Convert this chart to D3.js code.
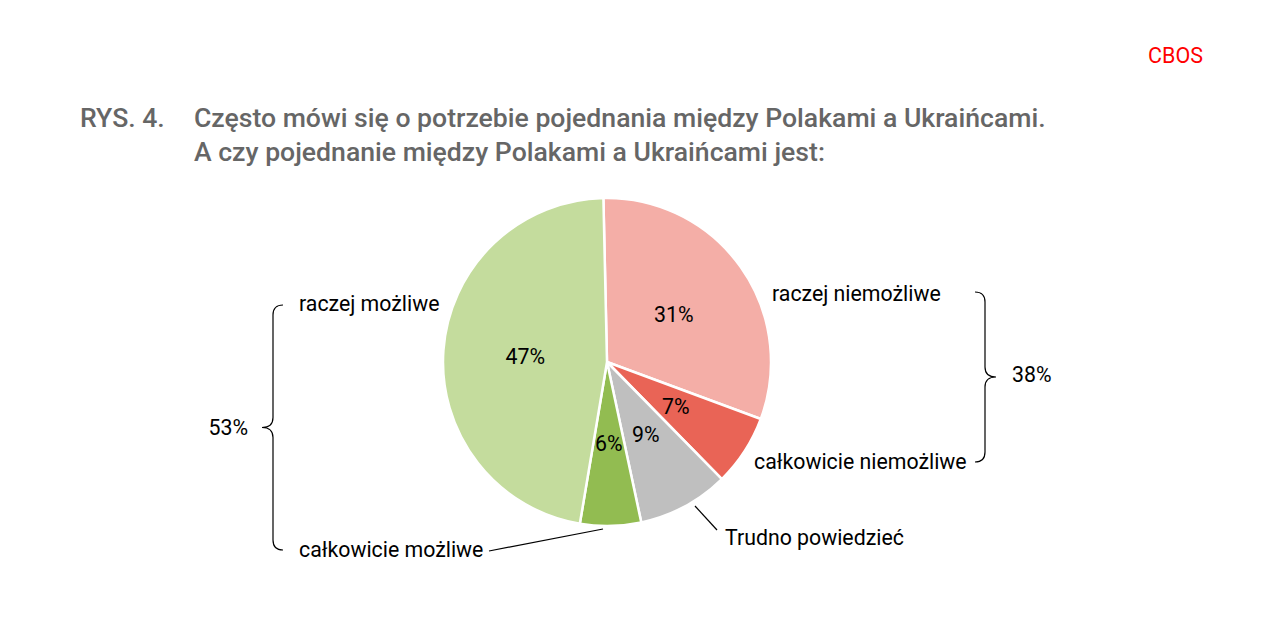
<!DOCTYPE html>
<html><head><meta charset="utf-8">
<script src="https://cdn.jsdelivr.net/npm/d3@7"></script>
<style>
body{margin:0;background:#fff;}
svg{display:block;font-family:Roboto, "Noto Sans", sans-serif;}
</style></head>
<body>
<svg id="c" width="1284" height="640"></svg>
<script>
const categories = ["raczej niemożliwe","całkowicie niemożliwe","Trudno powiedzieć","całkowicie możliwe","raczej możliwe"];
const values = [31, 7, 9, 6, 47];
const valueLabels = ["31%","7%","9%","6%","47%"];
const colors = ["#f4aea7","#e96456","#bfbfbf","#92bc51","#c4dc9d"];
const groupLabels = ["53%","38%"];
const titleLines = ["Często mówi się o potrzebie pojednania między Polakami a Ukraińcami.","A czy pojednanie między Polakami a Ukraińcami jest:"];

const svg = d3.select("#c");
const cx = 607, cy = 362, R = 164;
const FS = 21.3;

// Header
svg.append("text").attr("x",1203).attr("y",63).attr("text-anchor","end")
  .attr("fill","#ff0000").attr("font-size",21.5).attr("font-weight",400).text("CBOS");
svg.append("text").attr("x",80).attr("y",127).attr("fill","#666")
  .attr("font-size",26.6).attr("font-weight",500).text("RYS. 4.");
titleLines.forEach((t,i)=>{
  svg.append("text").attr("x",194).attr("y",127+34*i).attr("fill","#666")
    .attr("font-size",26.6).attr("font-weight",500).text(t);
});

const pie = d3.pie().sort(null).value(d=>d).startAngle(-0.022).endAngle(2*Math.PI-0.022);
const arcs = pie(values);
const arc = d3.arc().innerRadius(0).outerRadius(R);
const g = svg.append("g").attr("transform",`translate(${cx},${cy})`);
g.selectAll("path").data(arcs).join("path")
  .attr("d",arc).attr("fill",(d,i)=>colors[i])
  .attr("stroke","#fff").attr("stroke-width",2.5).attr("stroke-linejoin","round");
g.selectAll("text.v").data(arcs).join("text").attr("class","v")
  .attr("transform",d=>`translate(${arc.centroid(d)})`)
  .attr("text-anchor","middle").attr("dy","0.35em")
  .attr("font-size",FS).attr("fill","#000")
  .text((d,i)=>valueLabels[i]);

// Category labels
const labelPos = [
  {x:772,y:294,a:"start"},
  {x:754,y:462,a:"start"},
  {x:725,y:538,a:"start"},
  {x:299,y:550,a:"start"},
  {x:299,y:304,a:"start"}
];
categories.forEach((c,i)=>{
  svg.append("text").attr("x",labelPos[i].x).attr("y",labelPos[i].y).attr("dy","0.35em")
    .attr("text-anchor",labelPos[i].a).attr("font-size",FS).attr("fill","#000").text(c);
});

// leader lines
const ll = d3.line();
svg.append("path").attr("d",ll([[695,506],[717,530]])).attr("stroke","#000").attr("stroke-width",1.2).attr("fill","none");
svg.append("path").attr("d",ll([[489,551],[603,529]])).attr("stroke","#000").attr("stroke-width",1.2).attr("fill","none");

// brackets
function brace(x, y0, y1, dir){ // dir -1 points left, +1 points right
  const p = d3.path();
  const r = 10, ym = (y0+y1)/2, xv = x, xe = x - dir*r, xp = x + dir*11;
  p.moveTo(xe, y0);
  p.quadraticCurveTo(xv, y0, xv, y0+r);
  p.lineTo(xv, ym-r);
  p.quadraticCurveTo(xv, ym, xp, ym);
  p.quadraticCurveTo(xv, ym, xv, ym+r);
  p.lineTo(xv, y1-r);
  p.quadraticCurveTo(xv, y1, xe, y1);
  return p.toString();
}
svg.append("path").attr("d",brace(273,305,550,-1)).attr("stroke","#000").attr("stroke-width",1.2).attr("fill","none");
svg.append("path").attr("d",brace(985,292,462,1)).attr("stroke","#000").attr("stroke-width",1.2).attr("fill","none");
svg.append("text").attr("x",248).attr("y",428).attr("dy","0.35em").attr("text-anchor","end")
  .attr("font-size",FS).attr("fill","#000").text(groupLabels[0]);
svg.append("text").attr("x",1012).attr("y",375).attr("dy","0.35em").attr("text-anchor","start")
  .attr("font-size",FS).attr("fill","#000").text(groupLabels[1]);
</script>
</body></html>
